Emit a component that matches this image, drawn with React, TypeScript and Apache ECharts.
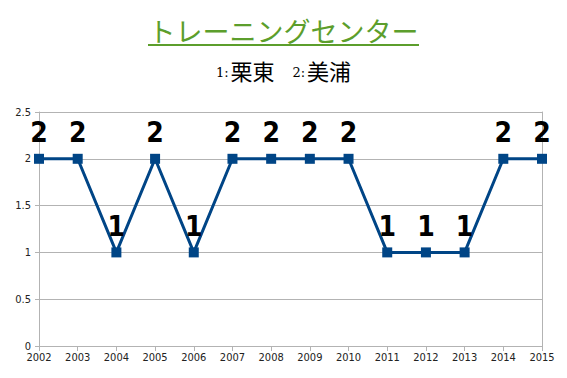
import React, { useEffect, useRef } from "react";
import * as echarts from "echarts";

const years = ["2002","2003","2004","2005","2006","2007","2008","2009","2010","2011","2012","2013","2014","2015"];
const values = [2, 2, 1, 2, 1, 2, 2, 2, 2, 1, 1, 1, 2, 2];
const titleText = "トレーニングセンター";

export default function App() {
  const ref = useRef<HTMLDivElement>(null);
  useEffect(() => {
    document.body.style.margin = "0";
    const chart = echarts.init(ref.current!, null, { renderer: "svg" });
    chart.setOption({
      animation: false,
      backgroundColor: "#ffffff",
      title: [
        {
          text: titleText,
          left: "center",
          top: 12,
          textStyle: { color: "#5c9e2c", fontSize: 27, fontWeight: "normal", fontFamily: "Noto Sans CJK JP" },
        },
        {
          text: "{s|1:}{b|栗東}{g|　 }{s|2:}{b|美浦}",
          left: "center",
          top: 54,
          textStyle: {
            fontWeight: "normal",
            rich: {
              s: { fontSize: 13, fontWeight: "normal", fontFamily: "DejaVu Serif", color: "#000", padding: [5, 2, 0, 0] },
              b: { fontSize: 22, fontWeight: "normal", fontFamily: "Noto Sans CJK JP", color: "#000" },
              g: { fontSize: 14, fontWeight: "normal" },
            },
          },
        },
      ],
      graphic: [
        {
          type: "line",
          shape: { x1: 148, y1: 45, x2: 419, y2: 45 },
          style: { stroke: "#5c9e2c", lineWidth: 2 },
        },
      ],
      grid: { left: 39, right: 25, top: 112, bottom: 32 },
      xAxis: {
        type: "category",
        data: years,
        boundaryGap: false,
        axisLine: { lineStyle: { color: "#b3b3b3" } },
        axisTick: { show: true, length: 5, lineStyle: { color: "#b3b3b3" } },
        axisLabel: { color: "#222", fontSize: 11, fontFamily: "DejaVu Sans Condensed", margin: 6 },
        splitLine: { show: false },
      },
      yAxis: [
        {
          type: "value",
          min: 0,
          max: 2.5,
          interval: 0.5,
          axisLine: { show: true, lineStyle: { color: "#b3b3b3" } },
          axisTick: { show: true, length: 4, lineStyle: { color: "#b3b3b3" } },
          axisLabel: { color: "#222", fontSize: 11, fontFamily: "DejaVu Sans Condensed", margin: 8 },
          splitLine: { show: true, lineStyle: { color: "#b3b3b3" } },
        },
        {
          type: "value",
          min: 0,
          max: 2.5,
          interval: 0.5,
          position: "right",
          axisLine: { show: true, lineStyle: { color: "#b3b3b3" } },
          axisTick: { show: false },
          axisLabel: { show: false },
          splitLine: { show: false },
        },
      ],
      series: [
        {
          type: "line",
          data: values,
          yAxisIndex: 0,
          symbol: "rect",
          symbolSize: 10,
          itemStyle: { color: "#004586" },
          lineStyle: { color: "#004586", width: 3 },
          label: {
            show: true,
            position: "top",
            distance: 7,
            color: "#000",
            fontSize: 28,
            fontWeight: "bold",
            fontFamily: "DejaVu Sans Condensed",
            textBorderWidth: 0,
          },
        },
      ],
    });
    return () => chart.dispose();
  }, []);
  return <div ref={ref} style={{ width: 567, height: 378 }} />;
}
